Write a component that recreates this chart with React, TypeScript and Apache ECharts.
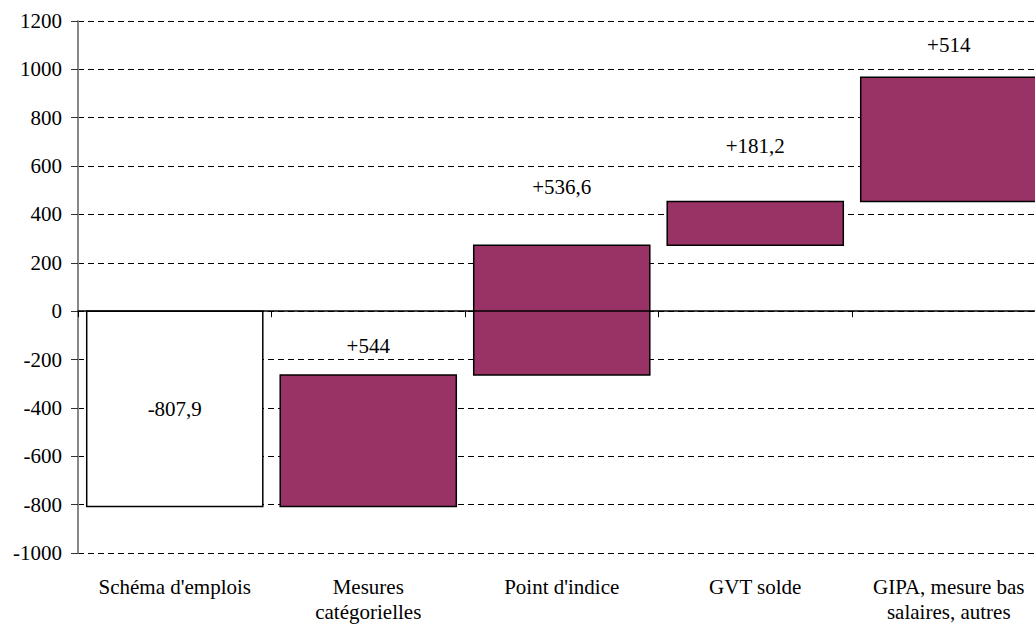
import React, { useEffect, useRef } from "react";
import * as echarts from "echarts";

const categories = [
  "Schéma d'emplois",
  "Mesures\ncatégorielles",
  "Point d'indice",
  "GVT solde",
  "GIPA, mesure bas\nsalaires, autres",
];
const deltas = [-807.9, 544, 536.6, 181.2, 514];
const valueLabels = ["-807,9", "+544", "+536,6", "+181,2", "+514"];
const yTicks = { min: -1000, max: 1200, interval: 200 };

export default function App() {
  const ref = useRef<HTMLDivElement>(null);
  useEffect(() => {
    if (!ref.current) return;
    const chart = echarts.init(ref.current, null, { renderer: "svg" });
    const font = "serif";

    // waterfall rows: [index, start, end]
    const rows: number[][] = [];
    let acc = 0;
    deltas.forEach((d, i) => {
      rows.push([i, acc, acc + d]);
      acc += d;
    });
    // pixel offset of labels above bar tops (first label sits inside)
    const labelDy = [0, 29, 58, 55, 32];

    chart.setOption({
      animation: false,
      textStyle: { fontFamily: font },
      grid: { left: 78, top: 21, right: -10.5, bottom: 72, outerBoundsMode: "none" },
      xAxis: [
        {
          type: "category",
          data: categories,
          z: 10,
          axisLine: { show: true, onZero: true, lineStyle: { color: "#000", width: 1.5 } },
          axisTick: { show: true, length: 6, lineStyle: { color: "#000", width: 1 } },
          axisLabel: { show: false },
          splitLine: { show: false },
        },
        {
          type: "category",
          data: categories,
          position: "bottom",
          axisLine: { show: false, onZero: false },
          axisTick: { show: false },
          axisLabel: {
            show: true,
            color: "#000",
            fontFamily: font,
            fontSize: 21,
            lineHeight: 25,
            margin: 21,
            interval: 0,
          },
          splitLine: { show: false },
        },
      ],
      yAxis: {
        type: "value",
        min: yTicks.min,
        max: yTicks.max,
        interval: yTicks.interval,
        axisLine: { show: true, lineStyle: { color: "#888", width: 2 } },
        axisTick: { show: true, length: 7, lineStyle: { color: "#333", width: 1 } },
        axisLabel: {
          color: "#000",
          fontFamily: font,
          fontSize: 21,
          margin: 16,
          formatter: (v: number) => String(v),
        },
        splitLine: { show: true, lineStyle: { color: "#000", width: 1, type: [6, 4] } },
      },
      series: [
        {
          type: "custom",
          xAxisIndex: 0,
          data: rows,
          encode: { x: 0, y: [1, 2] },
          renderItem: (params: any, api: any) => {
            const idx = api.value(0);
            const s = api.value(1);
            const e = api.value(2);
            const p1 = api.coord([idx, s]);
            const p2 = api.coord([idx, e]);
            const bw = api.size([1, 0])[0] * 0.91;
            const top = Math.min(p1[1], p2[1]);
            const h = Math.abs(p2[1] - p1[1]);
            const first = params.dataIndex === 0;
            const ly = first ? top + h / 2 : top - labelDy[params.dataIndex];
            return {
              type: "group",
              children: [
                {
                  type: "rect",
                  shape: { x: p1[0] - bw / 2, y: top, width: bw, height: h },
                  style: { fill: first ? "#ffffff" : "#993366", stroke: "#000", lineWidth: 1.5 },
                },
                {
                  type: "text",
                  style: {
                    text: valueLabels[params.dataIndex],
                    x: p1[0],
                    y: ly,
                    align: "center",
                    verticalAlign: "middle",
                    fill: "#000",
                    fontFamily: font,
                    fontSize: 21,
                  },
                },
              ],
            };
          },
        },
      ],
    });
    return () => chart.dispose();
  }, []);
  return (
    <div
      ref={ref}
      style={{ position: "absolute", left: 0, top: 0, width: 1035, height: 625, background: "#fff" }}
    />
  );
}
